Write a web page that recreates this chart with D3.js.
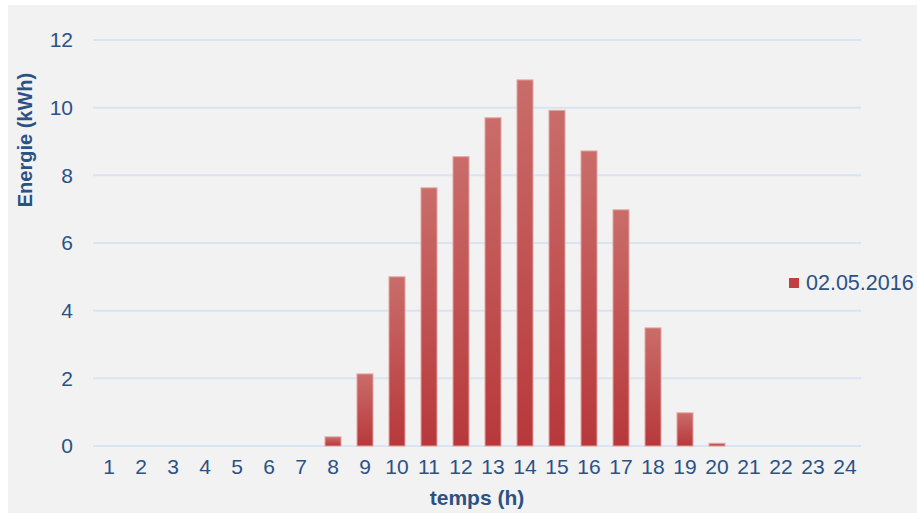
<!DOCTYPE html>
<html>
<head>
<meta charset="utf-8">
<script src="https://cdn.jsdelivr.net/npm/d3@7"></script>
<style>
  body { margin: 0; background: #fff; }
  text { font-family: "Liberation Sans", Arial, sans-serif; }
</style>
</head>
<body>
<div id="chart"></div>
<script>
(() => {
  const width = 917;
  const height = 513;

  // heures et énergie produite (kWh)
  const hours = d3.range(1, 25).map(String);
  const energy = [0, 0, 0, 0, 0, 0, 0, 0.27, 2.13, 5.0, 7.63, 8.55, 9.7, 10.82, 9.92, 8.72, 6.98, 3.49, 0.98, 0.08, 0, 0, 0, 0];
  const yTicks = [0, 2, 4, 6, 8, 10, 12];
  const seriesName = "02.05.2016";

  const textColor = "#2b5185";
  const margin = { top: 40, right: 56, bottom: 67, left: 93 };

  const x = d3.scaleBand()
    .domain(hours)
    .range([margin.left, width - margin.right])
    .paddingInner(0.5)
    .paddingOuter(0.25);

  const y = d3.scaleLinear()
    .domain([0, 12])
    .range([height - margin.bottom, margin.top]);

  const svg = d3.select("#chart")
    .append("svg")
    .attr("width", width)
    .attr("height", height)
    .style("display", "block");

  svg.append("rect")
    .attr("x", 8).attr("y", 5)
    .attr("width", width - 8).attr("height", height - 5)
    .attr("fill", "#f2f2f2");

  const defs = svg.append("defs");
  const grad = defs.append("linearGradient")
    .attr("id", "barGrad")
    .attr("x1", 0).attr("y1", 0).attr("x2", 0).attr("y2", 1);
  grad.append("stop").attr("offset", "0%").attr("stop-color", "#c96d6a");
  grad.append("stop").attr("offset", "100%").attr("stop-color", "#b8383a");

  // grille
  svg.append("g")
    .selectAll("line")
    .data(yTicks)
    .join("line")
    .attr("x1", margin.left)
    .attr("x2", width - margin.right)
    .attr("y1", d => y(d))
    .attr("y2", d => y(d))
    .attr("stroke", "#d9e4f2")
    .attr("stroke-width", 2);

  // axe y
  const yAxis = svg.append("g")
    .attr("transform", `translate(${margin.left - 20},0)`)
    .call(d3.axisLeft(y).tickValues(yTicks).tickSize(0).tickPadding(0));
  yAxis.select(".domain").remove();
  yAxis.selectAll("text")
    .attr("font-size", 21)
    .attr("font-family", "Liberation Sans, Arial, sans-serif")
    .attr("fill", textColor);

  // axe x
  const xAxis = svg.append("g")
    .attr("transform", `translate(0,${height - margin.bottom})`)
    .call(d3.axisBottom(x).tickSize(0).tickPadding(13));
  xAxis.select(".domain").remove();
  xAxis.selectAll("text")
    .attr("font-size", 21)
    .attr("font-family", "Liberation Sans, Arial, sans-serif")
    .attr("fill", textColor);

  // barres
  svg.append("g")
    .selectAll("rect")
    .data(hours.map((h, i) => ({ h, v: energy[i] })).filter(d => d.v > 0))
    .join("rect")
    .attr("x", d => x(d.h))
    .attr("y", d => y(d.v))
    .attr("width", x.bandwidth())
    .attr("height", d => y(0) - y(d.v))
    .attr("fill", "url(#barGrad)")
    .attr("stroke", "#e3a3a1")
    .attr("stroke-width", 1);

  // titres
  svg.append("text")
    .attr("transform", `translate(32,${(margin.top + 240) / 2}) rotate(-90)`)
    .attr("text-anchor", "middle")
    .attr("font-size", 20)
    .attr("font-weight", "bold")
    .attr("fill", textColor)
    .text("Energie (kWh)");

  svg.append("text")
    .attr("x", 477)
    .attr("y", 505)
    .attr("text-anchor", "middle")
    .attr("font-size", 21)
    .attr("font-weight", "bold")
    .attr("fill", textColor)
    .text("temps (h)");

  // légende
  const legend = svg.append("g").attr("transform", "translate(789,278)");
  legend.append("rect")
    .attr("width", 10).attr("height", 10)
    .attr("fill", "#c0403f");
  legend.append("text")
    .attr("x", 17)
    .attr("y", 12)
    .attr("font-size", 21.5)
    .attr("fill", textColor)
    .text(seriesName);
})();
</script>
</body>
</html>
